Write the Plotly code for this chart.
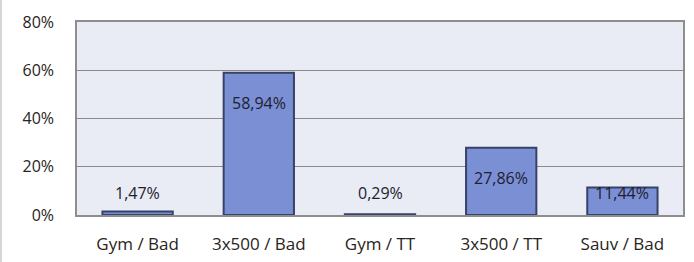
import plotly.graph_objects as go

categories = ["Gym / Bad", "3x500 / Bad", "Gym / TT", "3x500 / TT", "Sauv / Bad"]
values = [1.47, 58.94, 0.29, 27.86, 11.44]
value_labels = ["1,47%", "58,94%", "0,29%", "27,86%", "11,44%"]
y_tick_values = [0, 20, 40, 60, 80]
y_tick_labels = ["0%", "20%", "40%", "60%", "80%"]

FONT = "Open Sans"
fig = go.Figure()
fig.add_trace(go.Bar(
    x=categories, y=values, width=0.58,
    marker=dict(color="#7b8fd5", line=dict(color="#374268", width=2)),
    hoverinfo="skip",
))

for c, v, t in zip(categories, values, value_labels):
    fig.add_annotation(x=c, y=max(v - 12.4, 9.0), text=t, showarrow=False,
                       font=dict(family=FONT, size=16, color="#1e2030"),
                       xanchor="center", yanchor="middle")

fig.update_layout(
    width=694, height=262,
    margin=dict(l=77, r=11, t=22, b=47),
    paper_bgcolor="white", plot_bgcolor="#e9ecf4",
    showlegend=False,
    bargap=0.42,
)
fig.update_xaxes(
    showline=True, linecolor="#8e8e8e", linewidth=1.5, mirror=True,
    tickfont=dict(family=FONT, size=17, color="#2a2420"),
    ticks="", ticklabelstandoff=13, automargin=False,
)
fig.update_yaxes(
    range=[0, 80], tickvals=y_tick_values, ticktext=y_tick_labels,
    showgrid=True, gridcolor="#8a8a8a", gridwidth=1.3,
    showline=True, linecolor="#8e8e8e", linewidth=1.5, mirror=True,
    tickfont=dict(family=FONT, size=16, color="#2a2420"),
    ticks="", ticklabelstandoff=18, zeroline=False, automargin=False,
)
fig.add_shape(type="line", xref="paper", yref="paper", x0=-76 / 606, x1=-76 / 606, y0=-0.3, y1=1.2,
              line=dict(color="#c8c8c8", width=1.5))
fig.write_html("out.html", config={"displayModeBar": False},
               post_script="document.body.style.margin='0';")
